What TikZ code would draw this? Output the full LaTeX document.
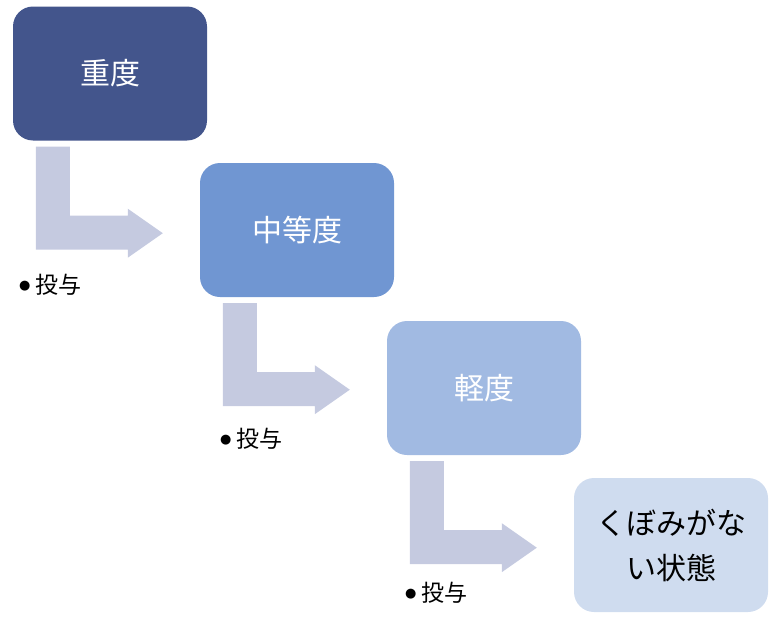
\documentclass[tikz,border=0pt]{standalone}
\usepackage{fontspec}
\setmainfont{Noto Sans CJK JP}
\newfontfamily\dejavu{DejaVu Sans}
\usetikzlibrary{positioning,calc}
\definecolor{severe}{RGB}{67,85,140}
\definecolor{moderate}{RGB}{112,150,210}
\definecolor{mild}{RGB}{161,186,226}
\definecolor{healed}{RGB}{207,220,239}
\definecolor{arrowgray}{RGB}{197,202,224}
\newcommand{\dosedot}{\raisebox{4pt}{\dejavu\fontsize{13}{13}\selectfont ●}\hspace{5pt}}

\begin{document}
\begin{tikzpicture}
[x=1pt,y=-1pt,
stage/.style = {rectangle, rounded corners = 20pt, minimum width = 194pt, minimum height = 134pt, inner sep = 0pt, font = \fontsize{30}{45}\selectfont, text = white},
dose/.style = {anchor = west, inner sep = 0pt, font = \fontsize{23}{25}\selectfont},]
\useasboundingbox (0,0) rectangle (777,629);
\node (A) at (110,73.5)[stage,fill = severe] {重度};
\node (B) at (297,230)[stage,fill = moderate] {中等度};
\node (C) at (484,388)[stage,fill = mild] {軽度};
\node (D) at (671,545)[stage,fill = healed,text = black,align = center] {くぼみがな\\い状態};
\foreach \n in {A,B,C}
  \fill[arrowgray,shift = {($(\n.south west)+(23,6)$)}] (0,0) -- (34,0) -- (34,69) -- (92,69) -- (92,62) -- (127,86.5) -- (92,111) -- (92,103) -- (0,103) -- cycle;
\node (L1) at (19,285)[dose] {\dosedot 投与};
\node (L2) at (220,439)[dose] {\dosedot 投与};
\node (L3) at (405,593)[dose] {\dosedot 投与};

\end{tikzpicture}
\end{document}
